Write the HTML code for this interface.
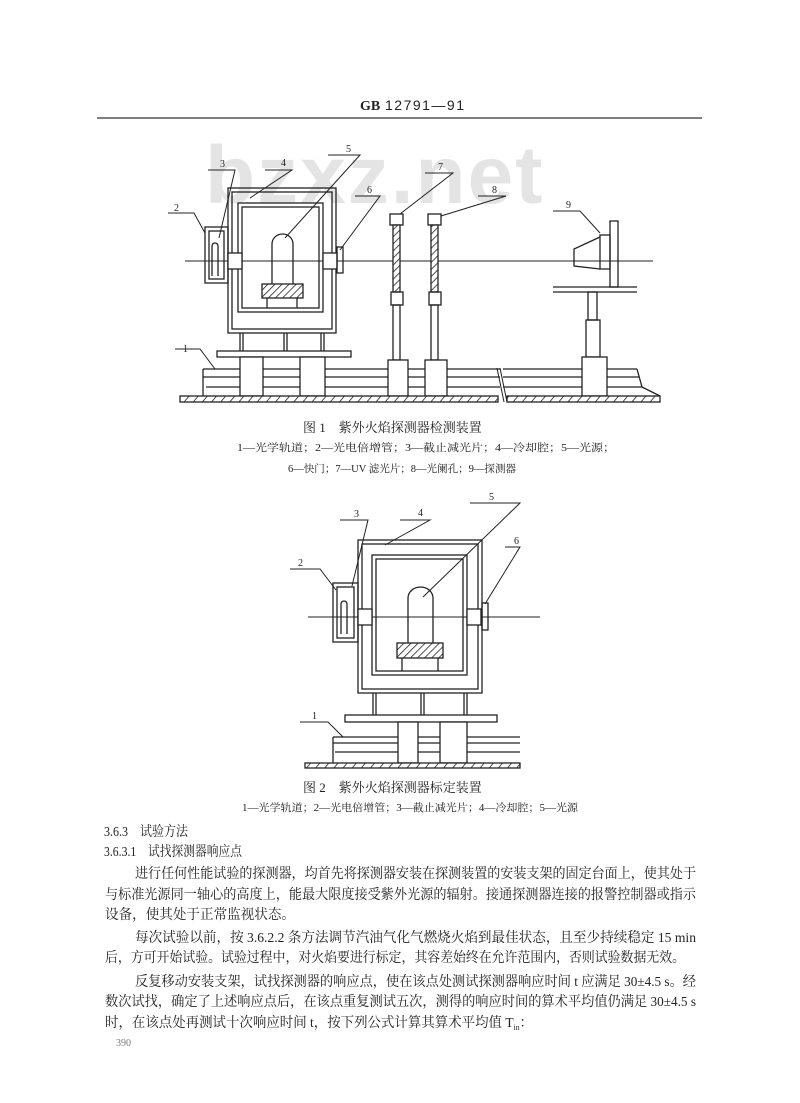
<!DOCTYPE html>
<html><head><meta charset="utf-8"><style>
html,body{margin:0;padding:0;background:#fff;}
svg{display:block;}
text{font-family:"Liberation Serif","Noto Serif CJK SC","Noto Sans CJK SC",serif;fill:#222;}
</style></head><body>
<svg width="800" height="1103" viewBox="0 0 800 1103" xmlns="http://www.w3.org/2000/svg">
<defs>
<pattern id="h" width="5" height="5" patternUnits="userSpaceOnUse" patternTransform="rotate(45)">
<rect width="5" height="5" fill="#fff"/><line x1="0" y1="0" x2="0" y2="5" stroke="#222" stroke-width="1.6"/></pattern>
<pattern id="g" width="7" height="7" patternUnits="userSpaceOnUse" patternTransform="rotate(40)">
<rect width="7" height="7" fill="#fff"/><line x1="0" y1="0" x2="0" y2="7" stroke="#222" stroke-width="1.6"/></pattern>
</defs>
<rect width="800" height="1103" fill="#fff"/>
<!-- watermark -->
<text x="205" y="203" font-family="Liberation Sans,sans-serif" font-weight="bold" font-size="82" fill="#e4e4e4" style="fill:#e4e4e4;font-family:'Liberation Sans',sans-serif" letter-spacing="2">bzxz.net</text>
<!-- header -->
<text x="360" y="110" font-size="14" font-weight="bold" style="font-family:'Liberation Serif',serif">GB</text>
<text x="385" y="110" font-size="14" style="font-family:'Liberation Sans',sans-serif" letter-spacing="1.5">12791—91</text>
<line x1="97" y1="118" x2="702" y2="118" stroke="#333" stroke-width="1.3"/>

<g stroke="#222" stroke-width="1.3" fill="none">
<!-- FIG 1 -->
<line x1="185" y1="261" x2="653" y2="261" stroke-width="1"/>
<rect x="228" y="188" width="108" height="145"/>
<rect x="232" y="192" width="100" height="137"/>
<rect x="238" y="203" width="85" height="109"/>
<rect x="242" y="207" width="77" height="101"/>
<rect x="205" y="227" width="23" height="56"/>
<rect x="209" y="231" width="15" height="48"/>
<path d="M212 276 V246 a3 3 0 0 1 6 0 V276"/>
<rect x="228" y="253" width="14" height="16" fill="#fff"/>
<rect x="323" y="253" width="14" height="16" fill="#fff"/>
<rect x="337" y="247" width="6" height="26"/>
<path d="M272 284 V244 a10.5 10 0 0 1 21 0 V284" />
<rect x="262" y="284" width="41" height="14" fill="url(#h)"/>
<line x1="267" y1="298" x2="267" y2="308"/><line x1="297" y1="298" x2="297" y2="308"/>
<line x1="240" y1="333" x2="240" y2="351"/><line x1="243" y1="333" x2="243" y2="351"/>
<line x1="284" y1="333" x2="284" y2="351"/><line x1="287" y1="333" x2="287" y2="351"/>
<line x1="321" y1="333" x2="321" y2="351"/><line x1="324" y1="333" x2="324" y2="351"/>
<rect x="217" y="351" width="134" height="6"/>
<!-- rails -->
<path d="M203 369 H500 M203 377 H500 M206 387 H500"/>
<path d="M503 369 H637 M503 377 H639 M503 387 H642"/>
<path d="M637 369 L642 387 L660 396"/>
<path d="M203 369 V396"/>
<rect x="240" y="357" width="23" height="39" fill="#fff"/>
<rect x="300" y="357" width="25" height="39" fill="#fff"/>
<!-- posts 7,8 -->
<rect x="390" y="214" width="13" height="11"/>
<rect x="393" y="225" width="7" height="67" fill="url(#h)"/>
<rect x="391" y="292" width="12" height="13"/>
<rect x="393" y="305" width="7" height="55"/>
<rect x="388" y="360" width="20" height="36" fill="#fff"/>
<rect x="428" y="214" width="13" height="11"/>
<rect x="431" y="225" width="7" height="67" fill="url(#h)"/>
<rect x="429" y="292" width="12" height="13"/>
<rect x="431" y="305" width="7" height="55"/>
<rect x="425" y="360" width="22" height="36" fill="#fff"/>
<!-- detector 9 -->
<rect x="610" y="221" width="8" height="66"/>
<rect x="600" y="235" width="10" height="34"/>
<path d="M600 237 L574 249 V266 L600 269"/>
<path d="M553 287 H637 M553 292 H637"/>
<rect x="588" y="292" width="9" height="28"/>
<rect x="586" y="320" width="14" height="37"/>
<rect x="582" y="357" width="25" height="39" fill="#fff"/>
<!-- ground -->
<rect x="180" y="396" width="318" height="6" fill="url(#g)"/>
<rect x="507" y="396" width="153" height="6" fill="url(#g)"/>
<path d="M497 368 L504 402 M500 368 L507 402" stroke-width="1"/>
<!-- leaders fig1 -->
<g stroke-width="1">
<path d="M168 213 H194 L205 233"/>
<path d="M208 170 H235 L219 238"/>
<path d="M265 170 H292 L250 198"/>
<path d="M328 155 H360 L285 238"/>
<path d="M355 196 H380 L340 250"/>
<path d="M425 173 H453 L400 214"/>
<path d="M478 196 H506 L441 216"/>
<path d="M553 211 H580 L600 233"/>
<path d="M175 349 H200 L215 369"/>
</g>

<!-- FIG 2 -->
<line x1="308" y1="617" x2="540" y2="617" stroke-width="1"/>
<rect x="358" y="540" width="124" height="153"/>
<rect x="362" y="544" width="116" height="145"/>
<rect x="372" y="555" width="95" height="120"/>
<rect x="376" y="559" width="87" height="112"/>
<rect x="333" y="583" width="25" height="59"/>
<rect x="337" y="587" width="17" height="51"/>
<path d="M341 634 V604 a3 3 0 0 1 6 0 V634"/>
<rect x="358" y="609" width="14" height="16" fill="#fff"/>
<rect x="467" y="609" width="14" height="16" fill="#fff"/>
<rect x="482" y="603" width="6" height="27"/>
<path d="M408 643 V598 a12.5 11 0 0 1 25 0 V643"/>
<rect x="397" y="643" width="46" height="15" fill="url(#h)"/>
<line x1="402" y1="658" x2="402" y2="671"/><line x1="438" y1="658" x2="438" y2="671"/>
<line x1="373" y1="693" x2="373" y2="715"/><line x1="376" y1="693" x2="376" y2="715"/>
<line x1="421" y1="693" x2="421" y2="715"/><line x1="424" y1="693" x2="424" y2="715"/>
<line x1="464" y1="693" x2="464" y2="715"/><line x1="467" y1="693" x2="467" y2="715"/>
<rect x="345" y="715" width="152" height="7"/>
<path d="M333 737 H520 M333 743 H520 M335 752 H520 M333 737 V763"/>
<rect x="398" y="722" width="20" height="41" fill="#fff"/>
<rect x="440" y="722" width="27" height="41" fill="#fff"/>
<rect x="305" y="763" width="215" height="5" fill="url(#g)"/>
<g stroke-width="1">
<path d="M290 569 H320 L336 590"/>
<path d="M340 520 H368 L352 586"/>
<path d="M400 520 H430 L385 545"/>
<path d="M470 503 H520 L423 597"/>
<path d="M505 547 H520 L485 604"/>
<path d="M300 722 H328 L343 737"/>
</g>
</g>

<!-- labels -->
<g font-size="10" style="font-family:'Liberation Serif',serif">
<text x="174" y="211">2</text><text x="220" y="167">3</text><text x="281" y="166">4</text>
<text x="346" y="152">5</text><text x="367" y="193">6</text><text x="438" y="170">7</text>
<text x="492" y="193">8</text><text x="566" y="208">9</text><text x="183" y="352">1</text>
<text x="298" y="566">2</text><text x="354" y="517">3</text><text x="418" y="516">4</text>
<text x="489" y="500">5</text><text x="514" y="544">6</text><text x="312" y="719">1</text>
</g>

<text x="303" y="432" font-size="13">图 1　紫外火焰探测器检测装置</text>
<text x="237" y="451" font-size="10.5" textLength="378" lengthAdjust="spacingAndGlyphs">1—光学轨道；2—光电倍增管；3—截止减光片；4—冷却腔；5—光源；</text>
<text x="288" y="472" font-size="10.5" textLength="228" lengthAdjust="spacingAndGlyphs">6—快门；7—UV 滤光片；8—光阑孔；9—探测器</text>

<text x="303" y="792" font-size="13">图 2　紫外火焰探测器标定装置</text>
<text x="242" y="811" font-size="10.5" textLength="336" lengthAdjust="spacingAndGlyphs">1—光学轨道；2—光电倍增管；3—截止减光片；4—冷却腔；5—光源</text>

<g font-size="14">
<text x="104" y="836" textLength="84" lengthAdjust="spacingAndGlyphs">3.6.3　试验方法</text>
<text x="104" y="856" textLength="138" lengthAdjust="spacingAndGlyphs">3.6.3.1　试找探测器响应点</text>
<text x="135" y="878" textLength="561" lengthAdjust="spacingAndGlyphs">进行任何性能试验的探测器，均首先将探测器安装在探测装置的安装支架的固定台面上，使其处于</text>
<text x="105" y="899" textLength="591" lengthAdjust="spacingAndGlyphs">与标准光源同一轴心的高度上，能最大限度接受紫外光源的辐射。接通探测器连接的报警控制器或指示</text>
<text x="105" y="919" textLength="190" lengthAdjust="spacingAndGlyphs">设备，使其处于正常监视状态。</text>
<text x="135" y="942" textLength="561" lengthAdjust="spacingAndGlyphs">每次试验以前，按 3.6.2.2 条方法调节汽油气化气燃烧火焰到最佳状态，且至少持续稳定 15 min</text>
<text x="105" y="962" textLength="580" lengthAdjust="spacingAndGlyphs">后，方可开始试验。试验过程中，对火焰要进行标定，其容差始终在允许范围内，否则试验数据无效。</text>
<text x="135" y="986" textLength="561" lengthAdjust="spacingAndGlyphs">反复移动安装支架，试找探测器的响应点，使在该点处测试探测器响应时间 t 应满足 30±4.5 s。经</text>
<text x="105" y="1006" textLength="591" lengthAdjust="spacingAndGlyphs">数次试找，确定了上述响应点后，在该点重复测试五次，测得的响应时间的算术平均值仍满足 30±4.5 s</text>
<text x="105" y="1027" textLength="428" lengthAdjust="spacingAndGlyphs">时，在该点处再测试十次响应时间 t，按下列公式计算其算术平均值 T<tspan font-size="8" dy="3">in</tspan><tspan dy="-3">：</tspan></text>
</g>
<text x="116" y="1046" font-size="10" fill="#666" style="fill:#777">390</text>
</svg>
</body></html>
